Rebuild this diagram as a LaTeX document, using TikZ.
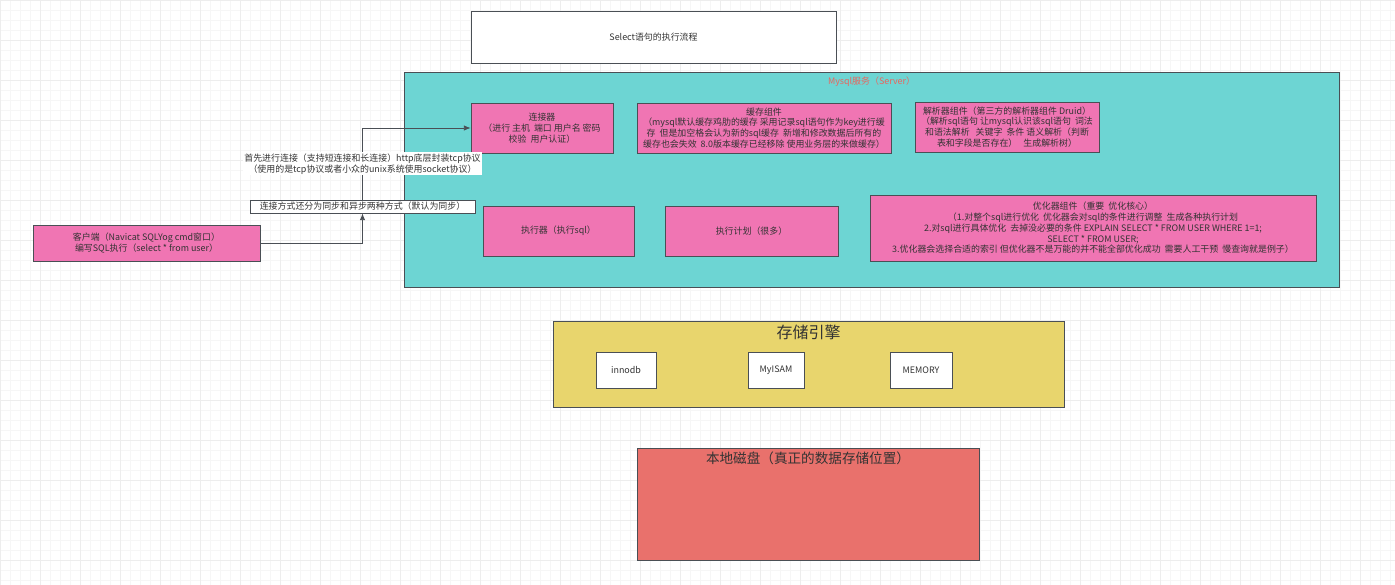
\documentclass[tikz,border=0pt]{standalone}
\usepackage{fontspec}
\setmainfont{Noto Sans CJK SC}
\usetikzlibrary{arrows.meta}
\definecolor{pinkf}{HTML}{F075B3}
\definecolor{tealf}{HTML}{6DD5D3}
\definecolor{yellowf}{HTML}{E8D56D}
\definecolor{redf}{HTML}{E9716C}
\definecolor{edgec}{HTML}{4A4F55}
\definecolor{txtc}{HTML}{333333}
\definecolor{redtxt}{HTML}{E8665F}
\definecolor{gridminor}{HTML}{F6F6F6}
\definecolor{gridmajor}{HTML}{EDEDED}
\newcommand\dsp{\ \ }
\tikzset{
  smalltxt/.style={font=\fontsize{6.7}{8.1}\selectfont, text=txtc, align=center},
  box/.style={draw=edgec, line width=0.6pt, inner sep=1pt, smalltxt},
  pinkbox/.style={box, fill=pinkf},
  whitebox/.style={box, fill=white},
  arr/.style={draw=edgec, line width=0.6pt, -{Latex[length=5pt,width=4pt]}},
}
\begin{document}
\begin{tikzpicture}[x=0.75pt,y=-0.75pt]
\useasboundingbox (0,0) rectangle (1395,585);
\fill[white] (0,0) rectangle (1395,585);
% background grid
\foreach \gx in {0,10,...,1390} {\draw[gridminor, line width=0.4pt] (\gx,0) -- (\gx,585);}
\foreach \gy in {0,10,...,580} {\draw[gridminor, line width=0.4pt] (0,\gy) -- (1395,\gy);}
\foreach \gx in {0,40,...,1390} {\draw[gridmajor, line width=0.4pt] (\gx,0) -- (\gx,585);}
\foreach \gy in {0,40,...,580} {\draw[gridmajor, line width=0.4pt] (0,\gy) -- (1395,\gy);}

% title
\node[whitebox, minimum width=273.75pt, minimum height=39pt] (title) at (653.5,37) {Select语句的执行流程};

% server container
\node[draw=edgec, line width=0.6pt, fill=tealf, minimum width=701.25pt, minimum height=161.25pt] (server) at (871.5,179.5) {};
\node[smalltxt, text=redtxt, anchor=north] (serverlbl) at (871.5,72) {Mysql服务（Server）};

\node[pinkbox, minimum width=106.5pt, minimum height=37.5pt] (conn) at (542,128)
  {连接器\\（进行 主机\dsp 端口 用户名 密码\\校验\dsp 用户认证）};
\node[pinkbox, minimum width=190.5pt, minimum height=37.5pt] (cache) at (764,128)
  {缓存组件\\（mysql默认缓存鸡肋的缓存 采用记录sql语句作为key进行缓\\存\dsp 但是加空格会认为新的sql缓存\dsp 新增和修改数据后所有的\\缓存也会失效\dsp 8.0版本缓存已经移除 使用业务层的来做缓存）};
\node[pinkbox, minimum width=138pt, minimum height=37.5pt] (parser) at (1007,127)
  {解析器组件（第三方的解析器组件 Druid）\\（解析sql语句 让mysql认识该sql语句\dsp 词法\\和语法解析\dsp\ 关键字\dsp 条件 语义解析（判断\\表和字段是否存在）\dsp\ 生成解析树）};
\node[pinkbox, minimum width=113.25pt, minimum height=37.5pt] (exec) at (558.5,231) {执行器（执行sql）};
\node[pinkbox, minimum width=129.75pt, minimum height=37.5pt] (plan) at (751.5,231) {执行计划（很多）};
\node[pinkbox, minimum width=334.5pt, minimum height=49.5pt] (opt) at (1093,228)
  {优化器组件（重要\dsp 优化核心）\\（1.对整个sql进行优化\dsp 优化器会对sql的条件进行调整\dsp 生成各种执行计划\\2.对sql进行具体优化\dsp 去掉没必要的条件 EXPLAIN SELECT * FROM USER WHERE 1=1;\\SELECT * FROM USER;\\3.优化器会选择合适的索引 但优化器不是万能的并不能全部优化成功\dsp 需要人工干预\dsp 慢查询就是例子）};

% client
\node[pinkbox, minimum width=170.25pt, minimum height=27pt] (client) at (146.5,243)
  {客户端（Navicat SQLYog cmd窗口）\\编写SQL执行（select * from user）};

% connection-mode label box
\node[whitebox, minimum width=168.75pt, minimum height=9.75pt, inner sep=0pt] (mode) at (362.5,206.5)
  {连接方式还分为同步和异步两种方式（默认为同步）};

% connectors
\draw[arr] (client.east) -| (mode.south);
\draw[arr] (mode.north) |- node[pos=0.25, smalltxt, fill=white, inner sep=1pt] (tcplbl)
  {首先进行连接（支持短连接和长连接）http底层封装tcp协议\\（使用的是tcp协议或者小众的unix系统使用socket协议）} (conn.west);

% storage engine
\node[draw=edgec, line width=0.6pt, fill=yellowf, minimum width=383.25pt, minimum height=64.5pt] (storage) at (808.5,364) {};
\node[font=\fontsize{12}{14}\selectfont, text=txtc, anchor=north] (storagelbl) at (808.5,320) {存储引擎};
\node[whitebox, minimum width=45pt, minimum height=27pt] (innodb) at (626,370) {innodb};
\node[whitebox, minimum width=42pt, minimum height=27pt] (myisam) at (776,370) {MyISAM};
\node[whitebox, minimum width=46.5pt, minimum height=27pt] (memory) at (921,370) {MEMORY};

% disk
\node[draw=edgec, line width=0.6pt, fill=redf, minimum width=256.5pt, minimum height=84pt] (disk) at (808,504) {};
\node[font=\fontsize{10.2}{12}\selectfont, text=txtc, anchor=north] (disklbl) at (808,447) {本地磁盘（真正的数据存储位置）};
\end{tikzpicture}
\end{document}
